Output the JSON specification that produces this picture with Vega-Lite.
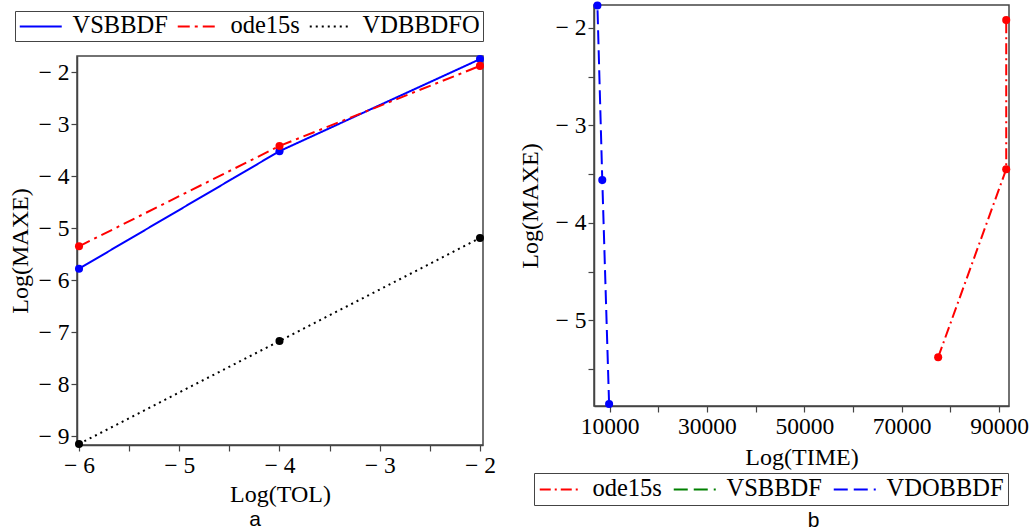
{
  "$schema": "https://vega.github.io/schema/vega-lite/v6.json",
  "padding": {"left": 7, "top": 0, "right": 0, "bottom": 0},
  "background": "white",
  "spacing": 20,
  "resolve": {
    "scale": {"color": "independent", "strokeDash": "independent"},
    "legend": {"color": "independent", "strokeDash": "independent"}
  },
  "config": {
    "view": {"stroke": "#444", "strokeWidth": 1.5},
    "font": "Liberation Serif",
    "axis": {
      "grid": false, "domainColor": "#444", "domainWidth": 1.5,
      "tickColor": "#444", "tickWidth": 1.2, "tickSize": 6,
      "labelFont": "Liberation Serif", "labelFontSize": 23.5, "labelColor": "#000", "labelPadding": 2,
      "titleFont": "Liberation Serif", "titleFontSize": 24, "titleFontWeight": "normal", "titleColor": "#000",
      "labelOverlap": false, "labelFlush": false
    },
    "title": {"font": "Liberation Sans", "fontSize": 21, "fontWeight": "normal", "color": "#000"}
  },
  "hconcat": [
    {
      "spacing": 0,
      "resolve": {
        "scale": {"color": "independent", "strokeDash": "independent"},
        "legend": {"color": "independent", "strokeDash": "independent"}
      },
      "vconcat": [
        {
          "width": 406, "height": 4,
          "view": {"stroke": null},
          "data": {"values": []},
          "mark": "point",
          "encoding": {}
        },
        {
          "width": 406, "height": 389,
          "title": {"text": "a", "orient": "bottom", "anchor": "middle", "frame": "group", "dx": -25, "offset": 2},
          "data": {"values": [
            {"tol": -6, "maxe": -5.78, "method": "VSBBDF"},
            {"tol": -4, "maxe": -3.52, "method": "VSBBDF"},
            {"tol": -2, "maxe": -1.75, "method": "VSBBDF"},
            {"tol": -6, "maxe": -5.35, "method": "ode15s"},
            {"tol": -4, "maxe": -3.42, "method": "ode15s"},
            {"tol": -2, "maxe": -1.88, "method": "ode15s"},
            {"tol": -6, "maxe": -9.15, "method": "VDBBDFO"},
            {"tol": -4, "maxe": -7.17, "method": "VDBBDFO"},
            {"tol": -2, "maxe": -5.19, "method": "VDBBDFO"}
          ]},
          "layer": [
            {
              "mark": {"type": "line", "strokeWidth": 2},
              "encoding": {
                "x": {"field": "tol", "type": "quantitative",
                  "scale": {"domain": [-6.02, -1.97], "nice": false, "zero": false},
                  "axis": {"title": "Log(TOL)", "titlePadding": 6,
                    "values": [-6, -5.5, -5, -4.5, -4, -3.5, -3, -2.5, -2],
                    "labelExpr": "datum.value == round(datum.value) ? '− ' + abs(datum.value) : ''"}},
                "y": {"field": "maxe", "type": "quantitative",
                  "scale": {"domain": [-9.17, -1.69], "nice": false, "zero": false},
                  "axis": {"title": "Log(MAXE)", "titlePadding": 6,
                    "values": [-9, -8.5, -8, -7.5, -7, -6.5, -6, -5.5, -5, -4.5, -4, -3.5, -3, -2.5, -2],
                    "labelExpr": "datum.value == round(datum.value) ? '− ' + abs(datum.value) : ''"}},
                "color": {"field": "method", "type": "nominal",
                  "scale": {"domain": ["VSBBDF", "ode15s", "VDBBDFO"], "range": ["#0000ff", "#ff0000", "#000000"]},
                  "legend": {"title": null, "orient": "none", "legendX": -62, "legendY": -45, "direction": "horizontal",
                    "symbolType": "M-1,0H3", "symbolSize": 441, "symbolStrokeWidth": 2, "labelOffset": 30, "columnPadding": 5,
                    "padding": 3, "strokeColor": "#444", "fillColor": "white", "labelFont": "Liberation Serif", "labelFontSize": 24.5, "labelColor": "#000"}},
                "strokeDash": {"field": "method", "type": "nominal",
                  "scale": {"domain": ["VSBBDF", "ode15s", "VDBBDFO"], "range": [[1, 0], [12, 5, 3, 5], [2, 4]]},
                  "legend": {"title": null, "orient": "none", "legendX": -62, "legendY": -45, "direction": "horizontal",
                    "symbolType": "M-1,0H3", "symbolSize": 441, "symbolStrokeWidth": 2, "labelOffset": 30, "columnPadding": 5,
                    "padding": 3, "strokeColor": "#444", "fillColor": "white", "labelFont": "Liberation Serif", "labelFontSize": 24.5, "labelColor": "#000"}}
              }
            },
            {
              "mark": {"type": "point", "filled": true, "size": 65, "opacity": 1},
              "encoding": {
                "x": {"field": "tol", "type": "quantitative"},
                "y": {"field": "maxe", "type": "quantitative"},
                "color": {"field": "method", "type": "nominal", "legend": null}
              }
            }
          ]
        }
      ]
    },
    {
      "width": 415, "height": 401,
      "title": {"text": "b", "orient": "bottom", "anchor": "middle", "frame": "group", "dx": 12, "offset": 4},
      "data": {"values": [
        {"time": 77500, "maxe": -5.38, "method": "ode15s"},
        {"time": 91480, "maxe": -3.45, "method": "ode15s"},
        {"time": 91480, "maxe": -1.92, "method": "ode15s"},
        {"time": 7500, "maxe": -1.77, "method": "VDOBBDF"},
        {"time": 8500, "maxe": -3.56, "method": "VDOBBDF"},
        {"time": 9900, "maxe": -5.86, "method": "VDOBBDF"}
      ]},
      "layer": [
        {
          "mark": {"type": "line", "strokeWidth": 2},
          "encoding": {
            "x": {"field": "time", "type": "quantitative",
              "scale": {"domain": [6800, 92050], "nice": false, "zero": false},
              "axis": {"title": "Log(TIME)", "titlePadding": 8,
                "values": [10000, 15000, 20000, 25000, 30000, 35000, 40000, 45000, 50000, 55000, 60000, 65000, 70000, 75000, 80000, 85000, 90000],
                "labelExpr": "(datum.value - 10000) % 20000 == 0 ? '' + datum.value : ''"}},
            "y": {"field": "maxe", "type": "quantitative",
              "scale": {"domain": [-5.88, -1.765], "nice": false, "zero": false},
              "axis": {"title": "Log(MAXE)", "titlePadding": 13,
                "values": [-5.5, -5, -4.5, -4, -3.5, -3, -2.5, -2],
                "labelExpr": "datum.value == round(datum.value) ? '− ' + abs(datum.value) : ''"}},
            "order": {"field": "maxe", "type": "quantitative"},
            "color": {"field": "method", "type": "nominal",
              "scale": {"domain": ["ode15s", "VSBBDF", "VDOBBDF"], "range": ["#ff0000", "#008000", "#0000ff"]},
              "legend": {"title": null, "orient": "none", "legendX": -60, "legendY": 468, "direction": "horizontal",
                "symbolType": "M-1,0H3", "symbolSize": 441, "symbolStrokeWidth": 2, "labelOffset": 30, "columnPadding": 7,
                "padding": 4, "strokeColor": "#444", "fillColor": "white", "labelFont": "Liberation Serif", "labelFontSize": 24.5, "labelColor": "#000"}},
            "strokeDash": {"field": "method", "type": "nominal",
              "scale": {"domain": ["ode15s", "VSBBDF", "VDOBBDF"], "range": [[11, 4, 2, 4], [14, 6], [14, 6]]},
              "legend": {"title": null, "orient": "none", "legendX": -60, "legendY": 468, "direction": "horizontal",
                "symbolType": "M-1,0H3", "symbolSize": 441, "symbolStrokeWidth": 2, "labelOffset": 30, "columnPadding": 7,
                "padding": 4, "strokeColor": "#444", "fillColor": "white", "labelFont": "Liberation Serif", "labelFontSize": 24.5, "labelColor": "#000"}}
          }
        },
        {
          "mark": {"type": "point", "filled": true, "size": 65, "opacity": 1},
          "encoding": {
            "x": {"field": "time", "type": "quantitative"},
            "y": {"field": "maxe", "type": "quantitative"},
            "color": {"field": "method", "type": "nominal", "legend": null}
          }
        }
      ]
    }
  ]
}
